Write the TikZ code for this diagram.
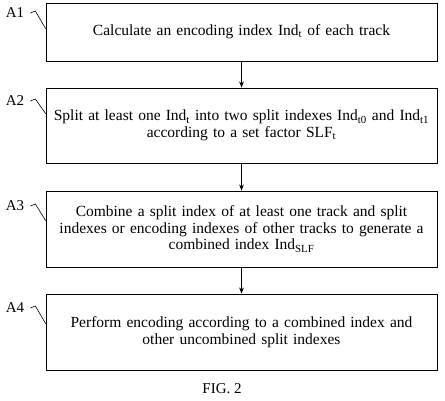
\documentclass[tikz,border=0pt]{standalone}
\usepackage{fontspec}
\setmainfont{Liberation Serif}
\usetikzlibrary{arrows.meta,positioning,calc}

\begin{document}
\begin{tikzpicture}[x=1pt, y=1pt, >=Stealth,
  stepbox/.style={draw, line width=0.7pt, minimum width=391pt, text width=386pt, align=center, inner sep=0pt, font=\fontsize{15.5}{16.5}\selectfont},
  steplabel/.style={font=\fontsize{15}{16}\selectfont, inner sep=0pt},
  hook/.style={line width=0.6pt}]
  \useasboundingbox (0,0) rectangle (445,-400);

  % Step boxes
  \node[stepbox, minimum height=58pt] (b1) at (241.5,-32) {Calculate an encoding index Ind\textsubscript{t} of each track};
  \node[stepbox, minimum height=75pt] (b2) at (241.5,-125.5) {Split at least one Ind\textsubscript{t} into two split indexes Ind\textsubscript{t0} and Ind\textsubscript{t1}\\ according to a set factor SLF\textsubscript{t}};
  \node[stepbox, minimum height=76pt] (b3) at (241.5,-229) {Combine a split index of at least one track and split\\ indexes or encoding indexes of other tracks to generate a\\ combined index Ind\textsubscript{SLF}};
  \node[stepbox, minimum height=76pt] (b4) at (241.5,-332) {Perform encoding according to a combined index and\\ other uncombined split indexes};

  % Step labels
  \node[steplabel] (l1) at (15,-13) {A1};
  \node[steplabel] (l2) at (15,-101) {A2};
  \node[steplabel] (l3) at (15,-206) {A3};
  \node[steplabel] (l4) at (15,-308) {A4};

  % Label hooks
  \draw[hook] ([xshift=6pt]l1.east) -- ++(5,2) -- ([yshift=-26pt]b1.north west);
  \draw[hook] ([xshift=6pt]l2.east) -- ++(5,2) -- ([yshift=-26pt]b2.north west);
  \draw[hook] ([xshift=6pt]l3.east) -- ++(5,2) -- ([yshift=-30pt]b3.north west);
  \draw[hook] ([xshift=6pt]l4.east) -- ++(5,2) -- ([yshift=-30pt]b4.north west);

  % Flow arrows
  \draw[->, line width=0.7pt] (b1) -- (b2);
  \draw[->, line width=0.7pt] (b2) -- (b3);
  \draw[->, line width=0.7pt] (b3) -- (b4);

  % Caption
  \node[font=\fontsize{15}{16}\selectfont] (cap) at (222,-389) {FIG. 2};
\end{tikzpicture}
\end{document}
